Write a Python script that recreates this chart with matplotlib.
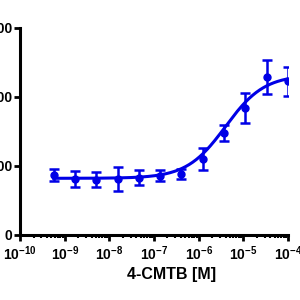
import numpy as np
import matplotlib
matplotlib.use("agg")
from matplotlib import pyplot as plt
from matplotlib.ticker import LogLocator, NullFormatter

# 3-fold dilution series of 4-CMTB
conc = 1e-4 / 3.0 ** np.arange(11, -1, -1)
response = [87, 81, 80, 81, 83, 86, 88, 110, 148, 184, 229, 223]
error = [9, 12, 11, 17, 11, 8, 7, 16, 12, 22, 25, 21]

# fitted curve (4-parameter logistic)
bottom, top, log_ec50, hill = 82, 232, -5.4, 1.0

yticks = [0, 100, 200, 300]
xdecades = [-10, -9, -8, -7, -6, -5, -4]

plt.rcParams['font.family'] = ['Liberation Sans', 'DejaVu Sans']
plt.rcParams['font.weight'] = 'bold'
plt.rcParams['mathtext.fontset'] = 'custom'
plt.rcParams['mathtext.bf'] = 'Liberation Sans:bold'
plt.rcParams['mathtext.rm'] = 'Liberation Sans:bold'

blue = '#0000e6'

fig = plt.figure(figsize=(3, 3), dpi=100)
ax = fig.add_axes([0.067, 0.217, 0.893, 0.69])

xs = np.logspace(np.log10(conc[0]), np.log10(conc[-1]), 200)
fit = bottom + (top - bottom) / (1 + 10 ** ((log_ec50 - np.log10(xs)) * hill))
ax.plot(xs, fit, color=blue, lw=2.2)
ax.errorbar(conc, response, yerr=error, fmt='o', color=blue, ms=5,
            elinewidth=1.8, capsize=3.5, capthick=1.8)

ax.set_xscale('log')
ax.set_xlim(1e-10, 1e-4)
ax.set_ylim(0, 300)
ax.set_yticks(yticks)
ax.set_yticklabels([str(v) for v in yticks])
ax.set_xticks([10.0 ** e for e in xdecades])
ax.set_xticklabels(['$\\mathbf{10^{%d}}$' % e for e in xdecades])
ax.xaxis.set_minor_locator(LogLocator(base=10, subs=np.arange(2, 10), numticks=20))
ax.xaxis.set_minor_formatter(NullFormatter())

for s in ['top', 'right']:
    ax.spines[s].set_visible(False)
for s in ['left', 'bottom']:
    ax.spines[s].set_linewidth(2.2)
ax.tick_params(axis='both', which='major', width=2, length=4, labelsize=10, pad=1.5)
ax.tick_params(axis='x', which='major', pad=3)
ax.tick_params(axis='x', which='minor', width=1.5, length=2.5)

ax.set_xlabel('4-CMTB [M]', fontsize=11.5, fontweight='bold', labelpad=3)
ax.xaxis.set_label_coords(0.567, -0.155)

plt.savefig("out.png", dpi=100)
